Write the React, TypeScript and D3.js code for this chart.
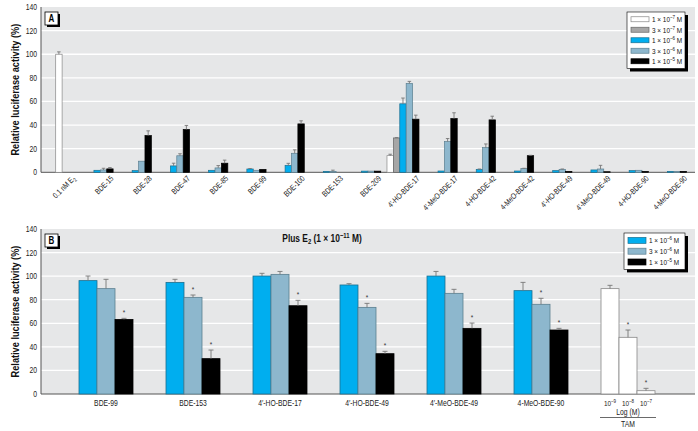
import React from "react";
import * as d3 from "d3";

// ---------- Panel A data ----------
const catsA = [
  "0.1 nM E₂", "BDE-15", "BDE-28", "BDE-47", "BDE-85", "BDE-99", "BDE-100", "BDE-153", "BDE-209",
  "4′-HO-BDE-17", "4′-MeO-BDE-17", "4-HO-BDE-42", "4-MeO-BDE-42", "4′-HO-BDE-49", "4′-MeO-BDE-49",
  "4-HO-BDE-90", "4-MeO-BDE-90",
];
const seriesA = ["1 × 10⁻⁷ M", "3 × 10⁻⁷ M", "1 × 10⁻⁶ M", "3 × 10⁻⁶ M", "1 × 10⁻⁵ M"];
const a1e7 = [100, null, null, null, null, null, null, null, null, 14.1, null, null, null, null, null, null, null];
const a1e7err = [102, null, null, null, null, null, null, null, null, 15.3, null, null, null, null, null, null, null];
const a3e7 = [null, null, null, null, null, null, null, null, null, 29.1, null, null, null, null, null, null, null];
const a3e7err = [null, null, null, null, null, null, null, null, null, 29.4, null, null, null, null, null, null, null];
const a1e6 = [null, 1.7, 1.4, 5.4, 1.7, 2.8, 5.9, 0.8, 1, 58, 1.1, 2.5, 1.1, 1.4, 2, 1.4, 0.8];
const a1e6err = [null, 1.9, 1.6, 7.7, 1.9, 3.2, 7.6, 0.9, 1.1, 62.9, 1.2, 2.8, 1.2, 1.6, 2.2, 1.6, 0.9];
const a3e6 = [null, 2, 9.4, 14, 3.7, 1.7, 16.1, 0.8, 1, 75.2, 26, 20.9, 3.1, 2.5, 2.8, 1.7, 0.8];
const a3e6err = [null, 3.4, 9.6, 15.7, 5.7, 1.9, 19, 1.8, 1.1, 77, 28.6, 24, 3.4, 2.8, 5.9, 1.9, 0.9];
const a1e5 = [null, 2.9, 31.1, 36.3, 7.7, 2.5, 41, 0, 1, 45, 45.5, 44.4, 14.1, 0.8, 0.5, 0.8, 0.8];
const a1e5err = [null, 4, 35.1, 39.7, 10.3, 2.7, 43.6, 0, 1.1, 48.4, 50.4, 47.5, 14.4, 0.9, 0.6, 0.9, 0.9];

// ---------- Panel B data ----------
const catsB = ["BDE-99", "BDE-153", "4′-HO-BDE-17", "4′-HO-BDE-49", "4′-MeO-BDE-49", "4-MeO-BDE-90"];
const seriesB = ["1 × 10⁻⁶ M", "3 × 10⁻⁶ M", "1 × 10⁻⁵ M"];
const b1e6 = [96.2, 94.7, 100.1, 92.5, 100.1, 87.7];
const b1e6err = [100.1, 97.3, 102.4, 93.6, 104, 94.7];
const b3e6 = [89.4, 82, 101.5, 73.5, 85.4, 76.1];
const b3e6err = [97.3, 84, 104, 76.9, 88.8, 81.2];
const b1e5 = [63.3, 30, 74.9, 34.2, 55.7, 54.3];
const b1e5err = [64.2, 37.3, 79.5, 36.2, 60.2, 55.7];
const b3e6star = [false, true, false, true, false, true];
const b1e5star = [true, true, true, true, true, true];
const tamLabels = ["10⁻⁹", "10⁻⁸", "10⁻⁷"];
const tamVals = [89.4, 48.1, 2.8];
const tamErr = [92.2, 54.3, 4.8];
const tamStar = [false, true, true];

const yTicks = [0, 20, 40, 60, 80, 100, 120, 140];

const FONT = "'Liberation Sans', Arial, sans-serif";
const SX = 0.8;
const C_WHITE = "#ffffff";
const C_GRAY = "#a6a6a6";
const C_BLUE = "#00aeef";
const C_LB = "#8db7cd";
const C_BLACK = "#000000";
const fillsA = [C_WHITE, C_GRAY, C_BLUE, C_LB, C_BLACK];
const strokesA = ["#888", "#666", "#1c6f8f", "#5b7f90", "#000"];
const ERR = "#777";

const SUP: Record<string, string> = { "⁻": "−", "⁰": "0", "¹": "1", "²": "2", "³": "3", "⁴": "4", "⁵": "5", "⁶": "6", "⁷": "7", "⁸": "8", "⁹": "9" };
const SUB: Record<string, string> = { "₂": "2" };

// split a string into runs of normal / superscript / subscript text
function runs(s: string) {
  const out: { t: string; k: "n" | "sup" | "sub" }[] = [];
  for (const ch of s) {
    const k = SUP[ch] ? "sup" : SUB[ch] ? "sub" : "n";
    const c = SUP[ch] || SUB[ch] || ch;
    if (out.length && out[out.length - 1].k === k) out[out.length - 1].t += c;
    else out.push({ t: c, k });
  }
  return out;
}

function Rich({ s, size }: { s: string; size: number }) {
  const r = runs(s);
  return (
    <>
      {r.map((p, i) => {
        const prev = i > 0 ? r[i - 1].k : "n";
        const shift = p.k === "sup" ? -0.38 * size : p.k === "sub" ? 0.22 * size : 0;
        const prevShift = prev === "sup" ? -0.38 * size : prev === "sub" ? 0.22 * size : 0;
        return (
          <tspan key={i} dy={shift - prevShift} fontSize={p.k === "n" ? size : size * 0.7}>
            {p.t}
          </tspan>
        );
      })}
    </>
  );
}

function T({ x, y, anchor = "start", size = 8, bold = false, rotate = 0, dy, fill = "#222", children }: any) {
  return (
    <text
      transform={`translate(${x},${y}) rotate(${rotate}) scale(${SX},1)`}
      textAnchor={anchor}
      dy={dy}
      fontSize={size}
      fontWeight={bold ? "bold" : "normal"}
      fontFamily={FONT}
      fill={fill}
    >
      {typeof children === "string" ? <Rich s={children} size={size} /> : children}
    </text>
  );
}

function PanelFrame({ left, right, top, bottom, y, letter, title }: any) {
  return (
    <g>
      <rect x={left} y={top} width={right - left} height={bottom - top} fill="#e6e7e8" />
      {yTicks.filter((t) => t > 0 && t < 140).map((t) => (
        <line key={t} x1={left} x2={right} y1={y(t)} y2={y(t)} stroke="#fff" strokeWidth={1.3} />
      ))}
      {yTicks.map((t) => (
        <T key={"l" + t} x={37} y={y(t) + 3} anchor="end" size={8.5}>
          {String(t)}
        </T>
      ))}
      <line x1={left} x2={left} y1={top} y2={bottom} stroke="#555" strokeWidth={1} />
      <line x1={left} x2={right} y1={bottom} y2={bottom} stroke="#555" strokeWidth={1} />
      <T x={19} y={(top + bottom) / 2} rotate={-90} anchor="middle" size={11.5} bold fill="#111">
        Relative luciferase activity (%)
      </T>
      <rect x={47} y={top + 7} width={13} height={13} fill="#000" />
      <rect x={45} y={top + 5} width={13} height={13} fill="#fff" stroke="#000" strokeWidth={0.8} />
      <T x={51.5} y={top + 15} anchor="middle" size={10} bold fill="#000">
        {letter}
      </T>
      {title}
    </g>
  );
}

function Legend({ x, y, w, rowH, labels, fills, strokes, swH }: any) {
  const h = labels.length * rowH + 4;
  return (
    <g>
      <rect x={x + 3} y={y + 3} width={w} height={h} fill="#000" />
      <rect x={x} y={y} width={w} height={h} fill="#fff" stroke="#000" strokeWidth={0.6} />
      {labels.map((lab: string, i: number) => {
        const cy = y + 2 + rowH * (i + 0.5);
        return (
          <g key={i}>
            <rect x={x + 4} y={cy - swH / 2} width={18} height={swH} fill={fills[i]} stroke={strokes[i]} strokeWidth={0.7} />
            <T x={x + 25} y={cy + 3} size={8} fill="#111">
              {lab}
            </T>
          </g>
        );
      })}
    </g>
  );
}

function ErrBar({ x, y0, y1, cap }: any) {
  if (Math.abs(y1 - y0) < 0.3) return null;
  return (
    <g stroke={ERR} strokeWidth={0.9}>
      <line x1={x} x2={x} y1={y0} y2={y1} />
      <line x1={x - cap / 2} x2={x + cap / 2} y1={y1} y2={y1} />
    </g>
  );
}

export default function App() {
  // ----- Panel A -----
  const aL = 41, aR = 695, aT = 7, aB = 172.3;
  const yA = d3.scaleLinear().domain([0, 140]).range([aB, aT]);
  const xA = d3.scalePoint<string>().domain(catsA).range([58.9, 670.6]);
  const bwA = 6.4;
  const valsA = [a1e7, a3e7, a1e6, a3e6, a1e5];
  const errsA = [a1e7err, a3e7err, a1e6err, a3e6err, a1e5err];

  const barsA: any[] = [];
  catsA.forEach((c, i) => {
    const present = valsA.map((v) => v[i]).filter((v) => v !== null).length;
    valsA.forEach((vals, s) => {
      const v = vals[i];
      if (v === null || v === undefined) return;
      const off = present === 1 ? 0 : (s - 2) * bwA;
      const cx = (xA(c) as number) + off;
      barsA.push({ key: `${i}-${s}`, cx, v, e: errsA[s][i], s });
    });
  });

  // ----- Panel B -----
  const bL = 41, bR = 695, bT = 229, bB = 394;
  const yB = d3.scaleLinear().domain([0, 140]).range([bB, bT]);
  const catsBAll = [...catsB, "TAM"];
  const xB = d3.scaleBand<string>().domain(catsBAll).range([62.5, 671.5]).padding(0);
  const bwB = 18;
  const valsB = [b1e6, b3e6, b1e5];
  const errsB = [b1e6err, b3e6err, b1e5err];
  const starsB = [catsB.map(() => false), b3e6star, b1e5star];
  const fillsB = [C_BLUE, C_LB, C_BLACK];
  const strokesB = ["#1c6f8f", "#5b7f90", "#000"];
  const barsB: any[] = [];
  catsB.forEach((c, i) => {
    const center = (xB(c) as number) + xB.bandwidth() / 2;
    valsB.forEach((vals, s) => {
      barsB.push({
        key: `${i}-${s}`,
        cx: center + (s - 1) * bwB,
        v: vals[i],
        e: errsB[s][i],
        star: starsB[s][i],
        fill: fillsB[s],
        stroke: strokesB[s],
      });
    });
  });
  const tamCenter = (xB("TAM") as number) + xB.bandwidth() / 2;
  tamVals.forEach((v, k) => {
    barsB.push({
      key: `tam-${k}`,
      cx: tamCenter + (k - 1) * bwB,
      v,
      e: tamErr[k],
      star: tamStar[k],
      fill: C_WHITE,
      stroke: "#888",
    });
  });

  return (
    <svg width={698} height={431} style={{ position: "absolute", left: 0, top: 0, display: "block" }}>
      <rect x={0} y={0} width={698} height={431} fill="#fff" />
      {/* Panel A */}
      <PanelFrame left={aL} right={aR} top={aT} bottom={aB} y={yA} letter="A" />
      {barsA.map((b) => (
        <g key={b.key}>
          {b.v > 0 && (
            <rect
              x={b.cx - bwA / 2}
              y={yA(b.v)}
              width={bwA}
              height={aB - yA(b.v)}
              fill={fillsA[b.s]}
              stroke={strokesA[b.s]}
              strokeWidth={0.7}
            />
          )}
          {b.e !== null && b.e > b.v && <ErrBar x={b.cx} y0={yA(b.v)} y1={yA(b.e)} cap={3.5} />}
        </g>
      ))}
      {catsA.map((c) => (
        <T key={c} x={(xA(c) as number) + 17} y={179} rotate={-45} anchor="end" size={8}>
          {c}
        </T>
      ))}
      <Legend x={627} y={12} w={58} rowH={10.5} labels={seriesA} fills={fillsA} strokes={strokesA} swH={5} />

      {/* Panel B */}
      <PanelFrame
        left={bL}
        right={bR}
        top={bT}
        bottom={bB}
        y={yB}
        letter="B"
        title={
          <T x={322} y={bT + 12.5} anchor="middle" size={10.5} bold fill="#111">
            Plus E₂ (1 × 10⁻¹¹ M)
          </T>
        }
      />
      {barsB.map((b) => (
        <g key={b.key}>
          <rect
            x={b.cx - bwB / 2}
            y={yB(b.v)}
            width={bwB}
            height={bB - yB(b.v)}
            fill={b.fill}
            stroke={b.stroke}
            strokeWidth={0.8}
          />
          <ErrBar x={b.cx} y0={yB(b.v)} y1={yB(b.e)} cap={5} />
          {b.star && (
            <T x={b.cx} y={yB(b.e) - 3} anchor="middle" size={8} fill="#333">
              *
            </T>
          )}
        </g>
      ))}
      {catsB.map((c) => (
        <T key={c} x={(xB(c) as number) + xB.bandwidth() / 2} y={406} anchor="middle" size={8.5}>
          {c}
        </T>
      ))}
      {tamLabels.map((t, k) => (
        <T key={t} x={tamCenter + (k - 1) * bwB} y={406} anchor="middle" size={8}>
          {t}
        </T>
      ))}
      <T x={tamCenter} y={415} anchor="middle" size={8.5}>
        Log (M)
      </T>
      <line x1={tamCenter - 28} x2={tamCenter + 28} y1={417.5} y2={417.5} stroke="#444" strokeWidth={0.8} />
      <T x={tamCenter} y={427} anchor="middle" size={8.5}>
        TAM
      </T>
      <Legend x={624} y={233} w={61} rowH={10.8} labels={seriesB} fills={fillsB} strokes={strokesB} swH={6} />
    </svg>
  );
}
